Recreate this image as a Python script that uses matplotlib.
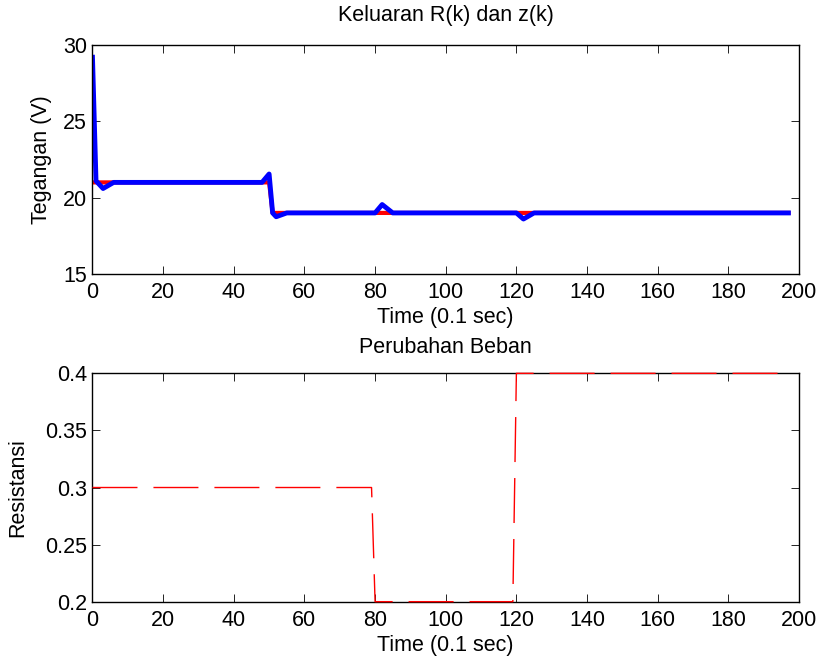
import matplotlib
matplotlib.use('Agg')
import matplotlib.pyplot as plt

plt.rcParams['font.family'] = ['Liberation Sans', 'DejaVu Sans']
plt.rcParams['font.size'] = 15.5
plt.rcParams['lines.scale_dashes'] = False

# top plot: setpoint R(k) and output z(k), vertices
k_ref = [0, 50, 51, 197]
r_ref = [21, 21, 19, 19]

k_out = [0, 1, 3, 6, 48, 50, 51, 52, 55, 80, 82, 85, 120, 122, 125, 197]
z_out = [29.2, 21.1, 20.6, 21, 21, 21.55, 19.0, 18.75, 19, 19, 19.55, 19, 19, 18.6, 19, 19]

# bottom plot: load change
k_load = [0, 79, 80, 119, 120, 197]
r_load = [0.3, 0.3, 0.2, 0.2, 0.4, 0.4]

xticks = list(range(0, 201, 20))

fig = plt.figure(figsize=(8.22, 6.58), dpi=100)
ax1 = fig.add_axes([0.1125, 0.5836, 0.8595, 0.3480])
ax2 = fig.add_axes([0.1125, 0.0856, 0.8595, 0.3470])

ax1.plot(k_ref, r_ref, color='red', linewidth=3)
ax1.plot(k_out, z_out, color='blue', linewidth=3.5)
ax1.set_xlim(0, 200)
ax1.set_ylim(15, 30)
ax1.set_yticks([15, 20, 25, 30])
ax1.set_title('Keluaran R(k) dan z(k)', fontsize=15.5, pad=17)
ax1.set_xlabel('Time (0.1 sec)', labelpad=3)
ax1.set_ylabel('Tegangan (V)', labelpad=8)

ax2.plot(k_load, r_load, color='red', linewidth=1.0, linestyle=(0, (32.4, 11.5)),
         zorder=3, clip_on=False)
ax2.set_xlim(0, 200)
ax2.set_ylim(0.2, 0.4)
ax2.set_yticks([0.2, 0.25, 0.3, 0.35, 0.4])
ax2.set_yticklabels(['0.2', '0.25', '0.3', '0.35', '0.4'])
ax2.set_title('Perubahan Beban', fontsize=15.5, pad=15)
ax2.set_xlabel('Time (0.1 sec)', labelpad=3)
ax2.set_ylabel('Resistansi', labelpad=12)

for ax in (ax1, ax2):
    ax.set_xticks(xticks)
    ax.tick_params(axis='x', pad=6)
    ax.tick_params(direction='in', top=True, right=True, length=5.5, width=0.6)
    ax.tick_params(axis='y', pad=4)
    for s in ax.spines.values():
        s.set_linewidth(1.0)

fig.savefig('out.png', dpi=100)
